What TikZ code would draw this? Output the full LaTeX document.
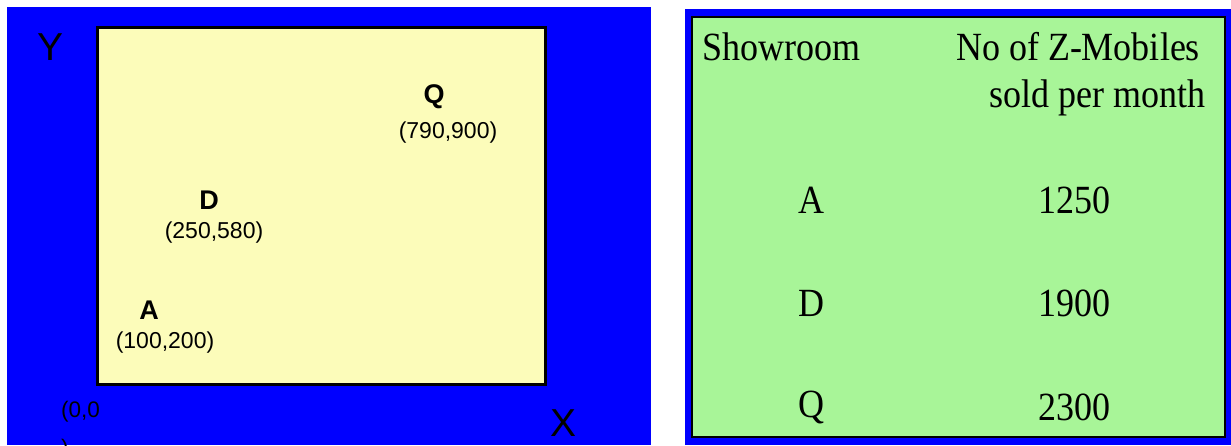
\documentclass[tikz,border=0pt]{standalone}
\usepackage{fontspec}
\setmainfont{Liberation Serif}
\setsansfont{Liberation Sans}
\usetikzlibrary{positioning}
\definecolor{panelblue}{RGB}{0,0,255}
\definecolor{plotyellow}{RGB}{252,252,186}
\definecolor{tablegreen}{RGB}{168,245,152}
\newcommand{\narrowtext}[1]{\scalebox{0.9}[1]{#1}}
\begin{document}
\begin{tikzpicture}[x=1pt,y=1pt,
		axislabel/.style={font=\sffamily\fontsize{39}{42}\selectfont},
		shoplabel/.style={font=\sffamily\bfseries\fontsize{27}{30}\selectfont},
		coordlabel/.style={font=\sffamily\fontsize{23}{26}\selectfont,inner sep=0pt},
		cell/.style={font=\rmfamily\fontsize{40}{44}\selectfont,inner sep=0pt}]
		\useasboundingbox (0,0) rectangle (1231,445);
		% left panel: map of showrooms
		\fill[panelblue] (7,0) rectangle (651,438);
		\draw[line width=3pt,fill=plotyellow] (97,61) rectangle (545,417);
		\node[axislabel] (ylab) at (51,398) {Y};
		\node[axislabel] (xlab) at (563,22) {X};
		\node[coordlabel,anchor=west,align=left,font=\sffamily\fontsize{22.5}{38}\selectfont] (origin) at (61,14) {(0,0\\)};
		\node[shoplabel] (Q) at (434,348) {Q};
		\node[coordlabel,below=9pt of Q,xshift=14pt] (Qpos) {(790,900)};
		\node[shoplabel] (D) at (209,245) {D};
		\node[coordlabel,below=9pt of D,xshift=5pt] (Dpos) {(250,580)};
		\node[shoplabel] (A) at (149,135) {A};
		\node[coordlabel,below=9pt of A,xshift=16pt] (Apos) {(100,200)};
		% right panel: sales table
		\fill[panelblue] (685,0) rectangle (1231,436);
		\draw[line width=2pt,fill=tablegreen] (692,8) rectangle (1225,428);
		\node[cell,anchor=west] (head1) at (702,398) {\narrowtext{Showroom}};
		\node[cell] (head2) at (1078,398) {\narrowtext{No of Z-Mobiles}};
		\node[cell] (head3) at (1097,347) {\narrowtext{sold per month}};
		\foreach \shop/\sold/\y in {A/1250/245,D/1900/142,Q/2300/38}{
			\node[cell] (shop\shop) at (811,\y) {\narrowtext{\shop}};
			\node[cell] (sold\shop) at (1074,\y) {\narrowtext{\sold}};
		}
\end{tikzpicture}
\end{document}
